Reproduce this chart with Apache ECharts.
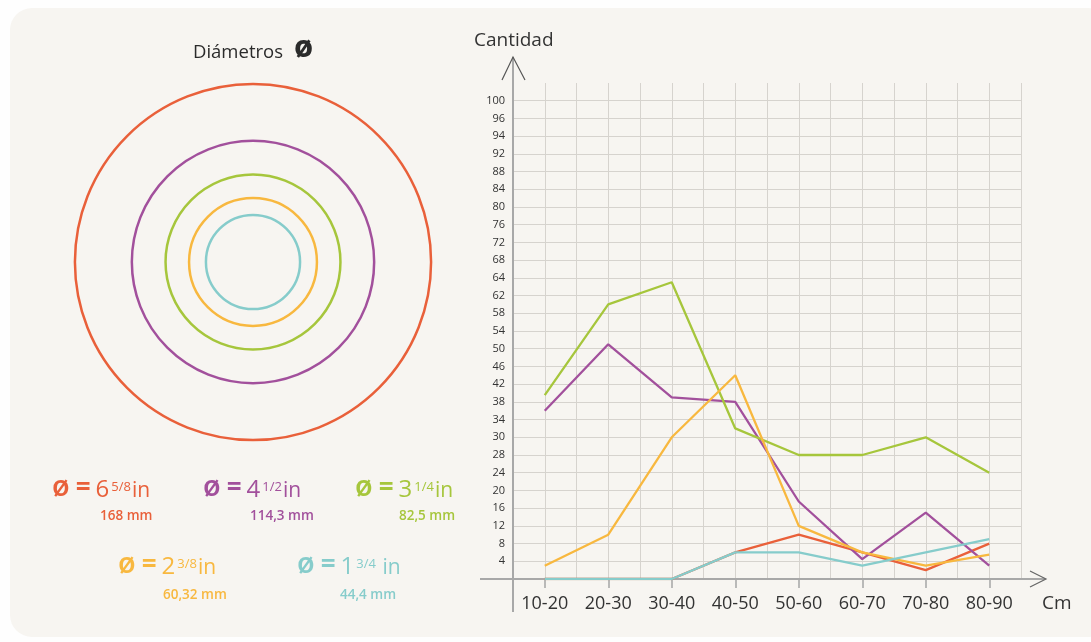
<!DOCTYPE html>
<html>
<head>
<meta charset="utf-8">
<script src="https://cdn.jsdelivr.net/npm/echarts@6/dist/echarts.min.js"></script>
<style>
  html, body { margin: 0; padding: 0; background: #fefefe; }
  #chart { width: 1091px; height: 642px; }
</style>
</head>
<body>
<div id="chart"></div>
<script>
// --- data ---
const categories = ['10-20', '20-30', '30-40', '40-50', '50-60', '60-70', '70-80', '80-90'];
// irregular tick labels of the original y axis (evenly spaced on the grid)
const yTickLabels = [4, 8, 12, 16, 20, 24, 28, 30, 34, 38, 42, 46, 50, 54, 58, 62, 64, 68, 72, 76, 80, 84, 88, 92, 94, 96, 100];

const pipeNames = ['6 5/8 in', '4 1/2 in', '3 1/4 in', '2 3/8 in', '1 3/4 in'];
const diameterWhole = ['6', '4', '3', '2', '1'];
const diameterFrac = ['5/8', '1/2', '1/4', '3/8', '3/4'];
const diameterMm = [168, 114.3, 82.5, 60.32, 44.4];
const diameterMmLabels = ['168 mm', '114,3 mm', '82,5 mm', '60,32 mm', '44,4 mm'];

const count658 = [0, 0, 0, 6, 10, 6, 2, 8];
const count412 = [36, 51, 39, 38, 17.5, 4.5, 15, 3];
const count314 = [39.5, 60, 63.5, 32, 28, 28, 30, 24];
const count238 = [3, 10, 30, 44, 12, 6, 3, 5.5];
const count134 = [0, 0, 0, 6, 6, 3, 6, 9];

// --- styles / layout ---
const colors = ['#e9603a', '#a2509c', '#a6c63c', '#f8b83f', '#86cccb'];
const FONT = '"Open Sans", "Noto Sans", sans-serif';
const GRID = { left: 513, top: 83, width: 508, height: 496 };
const CIRCLE_GRID = { left: 41, top: 50, width: 424, height: 424 };
const legendX = [52, 203, 355, 118, 297];
const legendBaseY = [499, 499, 499, 576, 576];
const mmX = [100, 250, 399, 163, 340];
const mmY = [518, 518, 518, 597, 597];

// value -> position on the evenly spaced grid (step index of the tick labels)
const stops = [0].concat(yTickLabels);
const toAxisPos = (v) => {
  for (let i = 0; i < stops.length - 1; i++) {
    if (v <= stops[i + 1]) return i + (v - stops[i]) / (stops[i + 1] - stops[i]);
  }
  return stops.length - 1;
};

const seriesData = [count658, count412, count314, count238, count134];

const chart = echarts.init(document.getElementById('chart'));

const gridBottom = GRID.top + GRID.height;
const gridRight = GRID.left + GRID.width;

const legendGraphics = [];
pipeNames.forEach((name, i) => {
  legendGraphics.push({
    type: 'text',
    left: legendX[i],
    top: legendBaseY[i] - 26,
    z: 5,
    style: {
      text: '{o|ø}{eq|=}{n|' + diameterWhole[i] + '}{s|' + diameterFrac[i] + '}{u|' + (i === 4 ? ' in' : 'in') + '}',
      fill: colors[i],
      font: '22px ' + FONT,
      rich: {
        o: { fontSize: 29, fontFamily: FONT, fontWeight: 600, lineHeight: 26, verticalAlign: 'bottom', padding: [0, 6, 0, 0], fill: colors[i] },
        eq: { fontSize: 26, fontFamily: FONT, fontWeight: 700, lineHeight: 22, verticalAlign: 'bottom', padding: [0, 5, 0, 0], fill: colors[i] },
        n: { fontSize: 24, fontFamily: FONT, lineHeight: 26, verticalAlign: 'bottom', fill: colors[i] },
        s: { fontSize: 13, fontFamily: FONT, lineHeight: 26, verticalAlign: 'bottom', padding: [0, 1, 8, 2], fill: colors[i] },
        u: { fontSize: 21, fontFamily: FONT, lineHeight: 26, verticalAlign: 'bottom', fill: colors[i] }
      }
    }
  });
  legendGraphics.push({
    type: 'text',
    left: mmX[i],
    top: mmY[i] - 9,
    z: 5,
    style: {
      text: diameterMmLabels[i],
      fill: colors[i],
      font: '600 13.5px ' + FONT
    }
  });
});

const option = {
  backgroundColor: 'transparent',
  animation: false,
  textStyle: { fontFamily: FONT },
  grid: [
    { left: GRID.left, top: GRID.top, width: GRID.width, height: GRID.height },
    { left: CIRCLE_GRID.left, top: CIRCLE_GRID.top, width: CIRCLE_GRID.width, height: CIRCLE_GRID.height }
  ],
  xAxis: [
    {
      type: 'category',
      gridIndex: 0,
      data: categories,
      boundaryGap: true,
      axisLine: { show: false },
      axisTick: { show: true, alignWithLabel: true, length: 9, lineStyle: { color: '#a5a5a5', width: 1.5 } },
      axisLabel: { color: '#333', fontSize: 18, fontFamily: FONT, margin: 16 },
      splitLine: { show: false }
    },
    {
      // half-band vertical grid
      type: 'value',
      gridIndex: 0,
      position: 'top',
      min: 0,
      max: categories.length * 2,
      interval: 1,
      axisLine: { show: false },
      axisTick: { show: false },
      axisLabel: { show: false },
      splitLine: { show: true, lineStyle: { color: '#d6d3ce', width: 1 } }
    },
    { type: 'value', gridIndex: 1, min: -100, max: 100, show: false }
  ],
  yAxis: [
    {
      type: 'value',
      gridIndex: 0,
      min: 0,
      max: yTickLabels.length + 1,
      interval: 1,
      axisLine: { show: false },
      axisTick: { show: false },
      axisLabel: {
        color: '#333',
        fontSize: 11,
        fontFamily: FONT,
        margin: 8,
        padding: [0, 0, 5, 0],
        formatter: (v) => (v >= 1 && v <= yTickLabels.length ? String(yTickLabels[v - 1]) : '')
      },
      splitLine: { show: true, showMaxLine: false, lineStyle: { color: '#d6d3ce', width: 1 } }
    },
    { type: 'value', gridIndex: 1, min: -100, max: 100, show: false }
  ],
  series: seriesData.map((arr, i) => ({
    name: pipeNames[i],
    type: 'line',
    xAxisIndex: 0,
    yAxisIndex: 0,
    data: arr.map(toAxisPos),
    symbol: 'none',
    silent: true,
    z: 3 + (i === 4 ? 2 : 0),
    lineStyle: { color: colors[i], width: 2.3 }
  })).concat([{
    type: 'custom',
    xAxisIndex: 2,
    yAxisIndex: 1,
    silent: true,
    data: diameterMm.map((d, i) => ({ value: [0, 0, d], itemStyle: { color: colors[i] } })),
    renderItem: (params, api) => {
      const c = api.coord([api.value(0), api.value(1)]);
      const r = api.size([api.value(2) / 2, 0])[0];
      return {
        type: 'circle',
        shape: { cx: c[0], cy: c[1], r: r },
        style: { fill: 'none', stroke: api.visual('color'), lineWidth: 2.5 }
      };
    }
  }]),
  graphic: [
    // panel
    { type: 'rect', z: -10, shape: { x: 10, y: 8, width: 1100, height: 629, r: 22 }, style: { fill: '#f7f5f1' } },
    // y axis with open arrow
    { type: 'line', z: 1, shape: { x1: GRID.left, y1: 57, x2: GRID.left, y2: gridBottom + 33 }, style: { stroke: '#a8a8a8', lineWidth: 2 } },
    { type: 'polyline', z: 1, shape: { points: [[GRID.left - 11, 80], [GRID.left, 57], [GRID.left + 12, 80]] }, style: { stroke: '#555', lineWidth: 1.2, fill: null } },
    // x axis with open arrow
    { type: 'line', z: 1, shape: { x1: GRID.left - 33, y1: gridBottom, x2: gridRight + 24, y2: gridBottom }, style: { stroke: '#a8a8a8', lineWidth: 2 } },
    { type: 'polyline', z: 1, shape: { points: [[gridRight + 9, gridBottom - 8], [gridRight + 25, gridBottom], [gridRight + 9, gridBottom + 8]] }, style: { stroke: '#666', lineWidth: 1.2, fill: null } },
    // axis names
    { type: 'text', left: 474, top: 31, style: { text: 'Cantidad', fill: '#333', font: '19px ' + FONT } },
    { type: 'text', left: 1042, top: 594, style: { text: 'Cm', fill: '#333', font: '19px ' + FONT } },
    // circle title
    {
      type: 'text', left: 193, top: 33,
      style: {
        text: '{t|Diámetros}{o|ø}',
        fill: '#2b2b2b',
        rich: {
          t: { fontSize: 18.5, fontFamily: FONT, lineHeight: 26, verticalAlign: 'bottom', padding: [0, 11, 2, 0], fill: '#2b2b2b' },
          o: { fontSize: 31, fontFamily: FONT, fontWeight: 700, lineHeight: 28, verticalAlign: 'bottom', fill: '#2b2b2b' }
        }
      }
    }
  ].concat(legendGraphics)
};

chart.setOption(option);
</script>
</body>
</html>
